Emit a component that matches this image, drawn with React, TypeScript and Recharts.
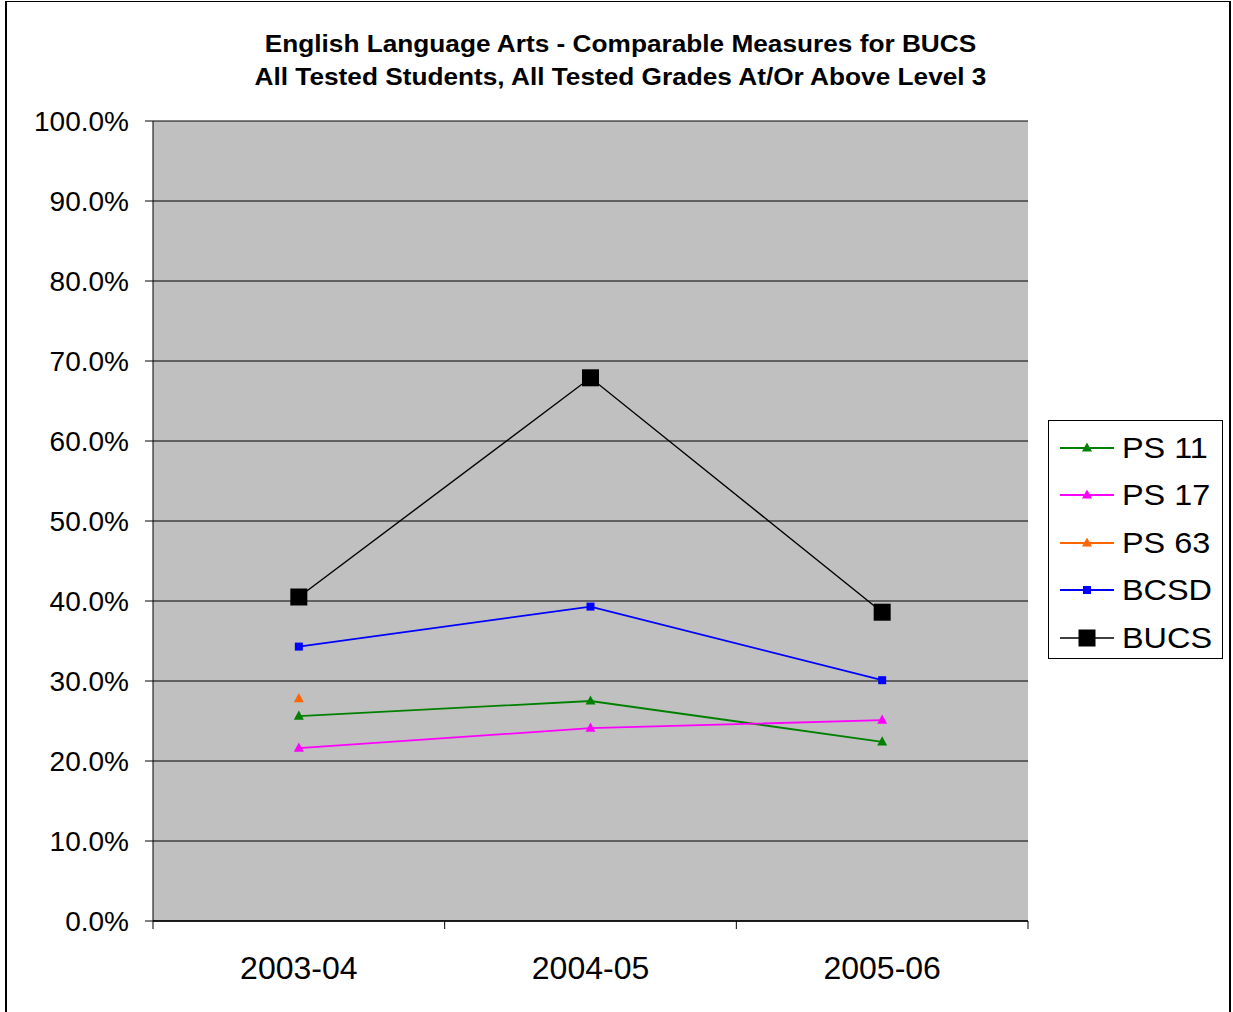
import { LineChart, Line, XAxis, YAxis, CartesianGrid } from "recharts";

const years = ["2003-04", "2004-05", "2005-06"];
const ps11 = [25.6, 27.5, 22.4];
const ps17 = [21.6, 24.1, 25.1];
const ps63 = [27.8, null, null];
const bcsd = [34.3, 39.3, 30.1];
const bucs = [40.5, 67.9, 38.6];
const yTicks = [0, 10, 20, 30, 40, 50, 60, 70, 80, 90, 100];
const xTicks = [0, 0.5, 1, 1.5, 2, 2.5, 3];

const FONT = "'Liberation Sans', Arial, sans-serif";

const data = years.map((year, i) => ({
  x: i + 0.5,
  year,
  ps11: ps11[i],
  ps17: ps17[i],
  ps63: ps63[i],
  bcsd: bcsd[i],
  bucs: bucs[i],
}));

type Marker = "triangle" | "square";

const seriesInfo: { key: string; name: string; color: string; marker: Marker; size: number; width: number }[] = [
  { key: "ps11", name: "PS 11", color: "#008000", marker: "triangle", size: 10, width: 1.8 },
  { key: "ps17", name: "PS 17", color: "#FF00FF", marker: "triangle", size: 10, width: 1.8 },
  { key: "ps63", name: "PS 63", color: "#FF6600", marker: "triangle", size: 10, width: 1.8 },
  { key: "bcsd", name: "BCSD", color: "#0000FF", marker: "square", size: 8, width: 1.8 },
  { key: "bucs", name: "BUCS", color: "#000000", marker: "square", size: 17, width: 1.4 },
];

function markerShape(cx: number, cy: number, marker: Marker, size: number, color: string) {
  if (marker === "square") {
    return <rect x={cx - size / 2} y={cy - size / 2} width={size} height={size} fill={color} />;
  }
  const h = size * 0.92;
  return (
    <polygon
      points={`${cx},${cy - h / 2 - 1} ${cx - size / 2},${cy + h / 2 - 1} ${cx + size / 2},${cy + h / 2 - 1}`}
      fill={color}
    />
  );
}

function makeDot(marker: Marker, size: number, color: string) {
  return (props: any) => {
    const { cx, cy, index } = props;
    if (cx == null || cy == null || props.value == null) return <g key={index} />;
    return <g key={index}>{markerShape(cx, cy, marker, size, color)}</g>;
  };
}

function XTick(props: any) {
  const { x, y, payload } = props;
  const v = payload.value as number;
  if (v % 1 === 0) {
    return <line x1={x} x2={x} y1={y} y2={y + 8} stroke="#000" strokeWidth={1} />;
  }
  return (
    <text x={x} y={y + 58} textAnchor="middle" fill="#000" fontSize={32} fontFamily={FONT}>
      {years[Math.floor(v)]}
    </text>
  );
}

function LegendBox() {
  return (
    <div
      style={{
        position: "absolute",
        left: 1048,
        top: 420,
        width: 175,
        height: 239,
        border: "1px solid #000",
        background: "#fff",
        boxSizing: "border-box",
        paddingTop: 3,
      }}
    >
      {seriesInfo.map((s) => (
        <div key={s.key} style={{ display: "flex", alignItems: "center", height: 47.5 }}>
          <svg width={70} height={30} style={{ display: "block" }}>
            <line x1={11} x2={65} y1={15} y2={15} stroke={s.color} strokeWidth={s.width} />
            {markerShape(38, 15, s.marker, s.size, s.color)}
          </svg>
          <span
            style={{
              fontFamily: FONT,
              fontSize: 30,
              color: "#000",
              marginLeft: 3,
              display: "inline-block",
              transform: "scaleX(1.08)",
              transformOrigin: "left center",
            }}
          >
            {s.name}
          </span>
        </div>
      ))}
    </div>
  );
}

export default function App() {
  return (
    <div style={{ position: "absolute", left: 0, top: 0, width: 1233, height: 1012, background: "#fff" }}>
      <div
        style={{
          position: "absolute",
          left: 5,
          top: 1,
          width: 1222,
          height: 1020,
          borderLeft: "2px solid #000",
          borderRight: "2px solid #000",
          borderTop: "1px solid #000",
        }}
      />
      <div
        style={{
          position: "absolute",
          left: 0,
          top: 28,
          width: 1241,
          textAlign: "center",
          fontFamily: FONT,
          fontWeight: "bold",
          fontSize: 23,
          lineHeight: "33px",
          color: "#000",
          transform: "scaleX(1.14)",
          transformOrigin: "620.5px 0",
        }}
      >
        <div>English Language Arts - Comparable Measures for BUCS</div>
        <div>All Tested Students, All Tested Grades At/Or Above Level 3</div>
      </div>
      <div style={{ position: "absolute", left: 0, top: 0 }}>
        <LineChart width={1233} height={1012} data={data} margin={{ top: 121, right: 205, bottom: 21, left: 0 }}>
          <CartesianGrid vertical={false} stroke="#000" strokeWidth={1} fill="#C0C0C0" fillOpacity={1} />
          <XAxis
            dataKey="x"
            type="number"
            domain={[0, 3]}
            ticks={xTicks}
            interval={0}
            tickLine={false}
            tickSize={0}
            tickMargin={0}
            tick={<XTick />}
            axisLine={{ stroke: "#000", strokeWidth: 1.5 }}
            height={70}
          />
          <YAxis
            domain={[0, 100]}
            ticks={yTicks}
            interval={0}
            width={153}
            tickSize={8}
            tickMargin={16}
            tickLine={{ stroke: "#000" }}
            axisLine={{ stroke: "#000" }}
            tick={{ fill: "#000", fontSize: 28, fontFamily: FONT }}
            tickFormatter={(v: number) => `${v.toFixed(1)}%`}
          />
          <YAxis
            yAxisId="right"
            orientation="right"
            width={0}
            domain={[0, 100]}
            tick={false}
            tickLine={false}
            axisLine={{ stroke: "#808080" }}
          />
          {seriesInfo.map((s) => (
            <Line
              key={s.key}
              dataKey={s.key}
              name={s.name}
              type="linear"
              stroke={s.color}
              strokeWidth={s.width}
              dot={makeDot(s.marker, s.size, s.color)}
              activeDot={false}
              connectNulls={false}
              isAnimationActive={false}
            />
          ))}
        </LineChart>
      </div>
      <LegendBox />
    </div>
  );
}
